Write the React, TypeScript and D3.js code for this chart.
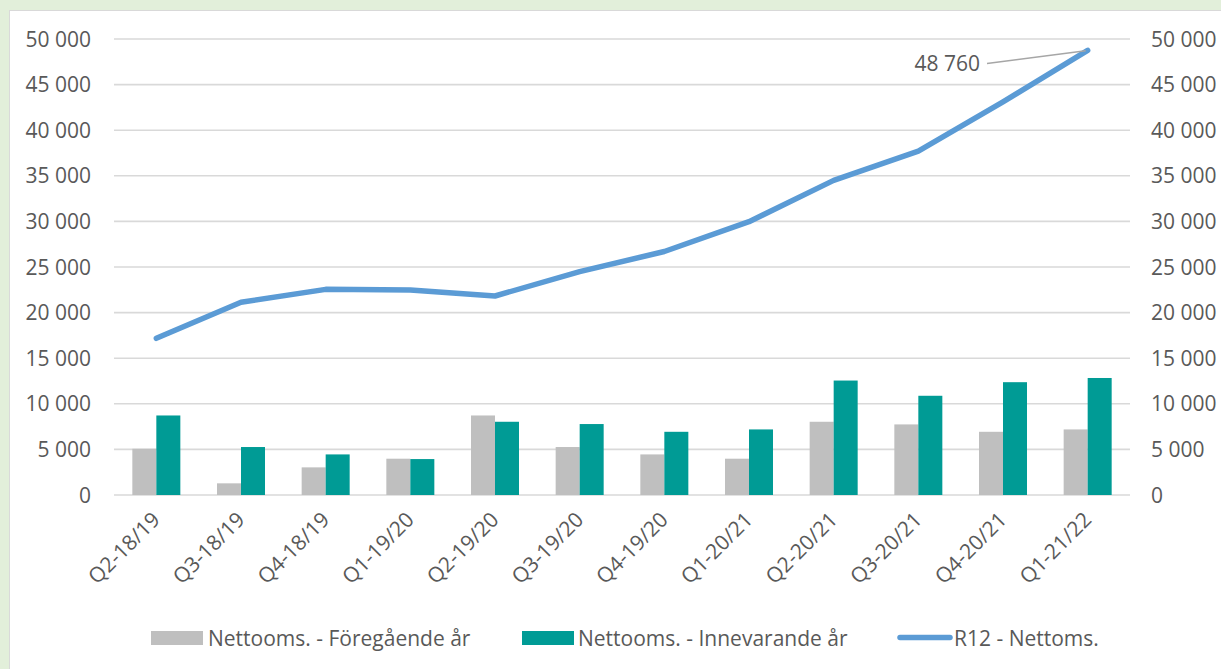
import React, { useEffect } from 'react';
import * as d3 from 'd3';

const categories = ['Q2-18/19', 'Q3-18/19', 'Q4-18/19', 'Q1-19/20', 'Q2-19/20', 'Q3-19/20', 'Q4-19/20', 'Q1-20/21', 'Q2-20/21', 'Q3-20/21', 'Q4-20/21', 'Q1-21/22'];
const previousYear = [5070, 1280, 3030, 3980, 8720, 5260, 4450, 3980, 8030, 7740, 6930, 7190];
const currentYear = [8720, 5260, 4450, 3940, 8030, 7780, 6930, 7190, 12550, 10880, 12370, 12830];
const r12 = [17180, 21130, 22550, 22480, 21820, 24500, 26700, 29970, 34500, 37700, 43100, 48760];
const yTicks = [0, 5000, 10000, 15000, 20000, 25000, 30000, 35000, 40000, 45000, 50000];
const seriesNames = ['Nettooms. - Föregående år', 'Nettooms. - Innevarande år', 'R12 - Nettoms.'];

const W = 1221;
const H = 669;
const FONT = '"Open Sans", sans-serif';
const FS = 21;
const TEXT = '#595959';
const GRAY = '#bfbfbf';
const TEAL = '#009b95';
const BLUE = '#5b9bd5';

const fmt = d3.formatLocale({ decimal: ',', thousands: '\u00a0', grouping: [3], currency: ['', ' kr'] }).format(',d');

const App = () => {
	useEffect(() => {
		document.body.style.margin = '0';
		document.body.style.overflow = 'hidden';
	}, []);

	const x = d3.scaleBand().domain(categories).range([114, 1130]).paddingInner(0.433).paddingOuter(0.2165);
	const xs = d3.scaleBand().domain(['prev', 'curr']).range([0, x.bandwidth()]);
	const y = d3.scaleLinear().domain([0, 50000]).range([495, 39]);
	const cx = c => x(c) + x.bandwidth() / 2;

	const line = d3.line()
		.x((d, i) => cx(categories[i]))
		.y(d => y(d));

	const last = r12.length - 1;
	const lastX = cx(categories[last]);
	const lastY = y(r12[last]);

	const legend = [
		{ name: seriesNames[0], type: 'rect', color: GRAY, x: 151, tx: 208 },
		{ name: seriesNames[1], type: 'rect', color: TEAL, x: 522, tx: 578 },
		{ name: seriesNames[2], type: 'line', color: BLUE, x: 897, tx: 954 },
	];

	return (
		<svg width={W} height={H} style={{ display: 'block' }} fontFamily={FONT}>
			<rect x={0} y={0} width={W} height={H} fill='#e2efda' />
			<rect x={9.5} y={10.5} width={W + 10} height={H + 10} fill='#ffffff' stroke='#d9d9d9' strokeWidth={1} />

			{/* gridlines */}
			<g>
				{yTicks.map(t => (
					<line key={t} x1={114} x2={1130} y1={y(t)} y2={y(t)} stroke='#d9d9d9' strokeWidth={1.6} />
				))}
			</g>

			{/* left + right axis labels */}
			<g fill={TEXT} fontSize={FS}>
				{yTicks.map(t => (
					<text key={'l' + t} x={91} y={y(t)} dy='0.36em' textAnchor='end'>{fmt(t)}</text>
				))}
				{yTicks.map(t => (
					<text key={'r' + t} x={1151} y={y(t)} dy='0.36em' textAnchor='start'>{fmt(t)}</text>
				))}
			</g>

			{/* bars */}
			<g>
				{categories.map((c, i) => (
					<g key={c}>
						<rect x={x(c) + xs('prev')} y={y(previousYear[i])} width={xs.bandwidth()} height={y(0) - y(previousYear[i])} fill={GRAY} />
						<rect x={x(c) + xs('curr')} y={y(currentYear[i])} width={xs.bandwidth()} height={y(0) - y(currentYear[i])} fill={TEAL} />
					</g>
				))}
			</g>

			{/* R12 line */}
			<path d={line(r12)} fill='none' stroke={BLUE} strokeWidth={5.5} strokeLinecap='round' strokeLinejoin='round' />

			{/* data label on last point */}
			<line x1={987} y1={63.5} x2={lastX - 2} y2={lastY + 0.5} stroke='#a6a6a6' strokeWidth={1.5} />
			<text x={980} y={63.5} dy='0.36em' textAnchor='end' fill={TEXT} fontSize={FS}>{fmt(r12[last])}</text>

			{/* x labels */}
			<g fill={TEXT} fontSize={FS}>
				{categories.map(c => (
					<text key={c} textAnchor='end' transform={`translate(${cx(c) + 5} ${521}) rotate(-45)`}>{c}</text>
				))}
			</g>

			{/* legend */}
			<g fontSize={FS} fill={TEXT}>
				{legend.map(l => (
					<g key={l.name}>
						{l.type === 'rect'
							? <rect x={l.x} y={631} width={52} height={14} fill={l.color} />
							: <line x1={l.x + 3} x2={l.x + 53} y1={637.5} y2={637.5} stroke={l.color} strokeWidth={5.5} strokeLinecap='round' />}
						<text x={l.tx} y={638} dy='0.36em'>{l.name}</text>
					</g>
				))}
			</g>
		</svg>
	);
};

export default App;
